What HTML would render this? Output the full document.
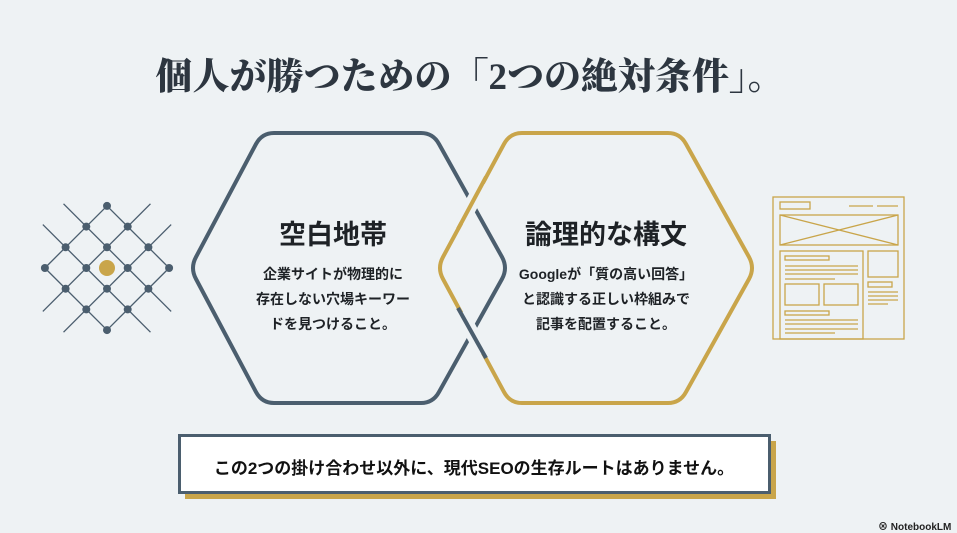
<!DOCTYPE html>
<html><head><meta charset="utf-8"><style>
html,body{margin:0;padding:0}
body{width:957px;height:533px;background:#eef2f4;position:relative;overflow:hidden;font-family:"Liberation Sans","Noto Sans CJK JP",sans-serif}
.t{position:absolute;white-space:nowrap;text-align:center}
</style></head><body>
<svg width="957" height="533" style="position:absolute;left:0;top:0">
<g id="net" stroke="#4b5e6e" stroke-width="1.3" fill="#4b5e6e"></g>
<circle cx="107" cy="268" r="8" fill="#c9a54a"/>
<g fill="none" stroke="#c9a54a" stroke-width="1.3">
<rect x="773" y="197" width="131" height="142"/>
<rect x="780" y="202" width="30" height="7"/>
<line x1="849" y1="206" x2="873" y2="206"/><line x1="877" y1="206" x2="898" y2="206"/>
<rect x="780" y="215" width="118" height="30"/><line x1="780" y1="215" x2="898" y2="245"/><line x1="780" y1="245" x2="898" y2="215"/>
<rect x="780" y="251" width="83" height="88"/>
<rect x="868" y="251" width="30" height="26"/>
<rect x="868" y="282" width="24" height="5"/>
<line x1="868" y1="292" x2="898" y2="292"/><line x1="868" y1="296" x2="898" y2="296"/><line x1="868" y1="300" x2="898" y2="300"/><line x1="868" y1="304" x2="888" y2="304"/>
<rect x="785" y="256" width="44" height="4"/>
<line x1="785" y1="266" x2="858" y2="266"/><line x1="785" y1="270" x2="858" y2="270"/><line x1="785" y1="274" x2="858" y2="274"/><line x1="785" y1="279" x2="835" y2="279"/>
<rect x="785" y="284" width="34" height="21"/><rect x="824" y="284" width="34" height="21"/>
<rect x="785" y="311" width="44" height="4"/>
<line x1="785" y1="320" x2="858" y2="320"/><line x1="785" y1="324" x2="858" y2="324"/><line x1="785" y1="329" x2="858" y2="329"/><line x1="785" y1="333" x2="835" y2="333"/>
</g>
<g fill="none" stroke-width="4" stroke-linejoin="round">
<path d="M274 133 L421 133 Q433 133 439 144 L502 257 Q508 268 502 279 L439 392 Q433 403 421 403 L274 403 Q262 403 256 392 L196 279 Q190 268 196 257 L256 144 Q262 133 274 133 Z" stroke="#4b5e6e"/>
<path d="M522 133 L668 133 Q680 133 686 144 L749 257 Q755 268 749 279 L686 392 Q680 403 668 403 L522 403 Q510 403 504 392 L443 279 Q437 268 443 257 L504 144 Q510 133 522 133 Z" stroke="#c9a54a"/>
<line x1="483" y1="183" x2="461" y2="223" stroke="#eef2f4" stroke-width="14"/>
<line x1="486" y1="177" x2="458" y2="229" stroke="#c9a54a"/>
<line x1="461" y1="313" x2="483" y2="353" stroke="#eef2f4" stroke-width="14"/>
<line x1="458" y1="308" x2="486" y2="358" stroke="#4b5e6e"/>
</g>
<rect x="185" y="441" width="591" height="58" fill="#c9a54a"/>
<rect x="179.5" y="435.5" width="590" height="57" fill="#fff" stroke="#4b5e6e" stroke-width="3"/>
</svg>
<script>
(function(){
var g=document.getElementById('net'),cx=107,cy=268,u=20.7,s='';
function P(a,b){return [cx+a*u,cy+b*u];}
function L(a1,b1,a2,b2){var p=P(a1,b1),q=P(a2,b2);s+='<line x1="'+p[0]+'" y1="'+p[1]+'" x2="'+q[0]+'" y2="'+q[1]+'"/>';}
// dx-dy=k lines, direction (1,1)
L(0,-3,3,0);L(-3,0,0,3);
L(-2.1,-3.1,3.1,2.1);L(-3.1,-2.1,2.1,3.1);
// dx+dy=k lines, direction (1,-1)
L(-3,0,0,-3);L(0,3,3,0);
L(-3.1,2.1,2.1,-3.1);L(-2.1,3.1,3.1,-2.1);
var n=[[0,-3],[-1,-2],[1,-2],[-2,-1],[0,-1],[2,-1],[-3,0],[-1,0],[1,0],[3,0],[-2,1],[0,1],[2,1],[-1,2],[1,2],[0,3]];
n.forEach(function(a){var p=P(a[0],a[1]);s+='<circle cx="'+p[0]+'" cy="'+p[1]+'" r="4" stroke="none"/>';});
g.innerHTML=s;
})();
</script>
<div class="t" style="left:0;width:940px;top:46px;font-family:'Liberation Serif','Noto Serif CJK SC',serif;font-weight:900;font-size:37px;color:#2d3640">個人が勝つための「2つの絶対条件」。</div>
<div class="t" style="left:233px;width:200px;top:213px;font-size:27px;font-weight:bold;color:#1e2226">空白地帯</div>
<div class="t" style="left:233px;width:200px;top:262px;font-size:14px;font-weight:bold;line-height:25px;color:#1e2226">企業サイトが物理的に<br>存在しない穴場キーワー<br>ドを見つけること。</div>
<div class="t" style="left:506px;width:200px;top:213px;font-size:27px;font-weight:bold;color:#1e2226">論理的な構文</div>
<div class="t" style="left:506px;width:200px;top:262px;font-size:14px;font-weight:bold;line-height:25px;color:#1e2226">Googleが「質の高い回答」<br>と認識する正しい枠組みで<br>記事を配置すること。</div>
<div class="t" style="left:179px;width:590px;top:454px;font-size:17px;font-weight:bold;color:#111">この2つの掛け合わせ以外に、現代SEOの生存ルートはありません。</div>
<div class="t" style="left:878px;top:518px;font-size:10px;font-weight:bold;color:#222">⊗ NotebookLM</div>
</body></html>
